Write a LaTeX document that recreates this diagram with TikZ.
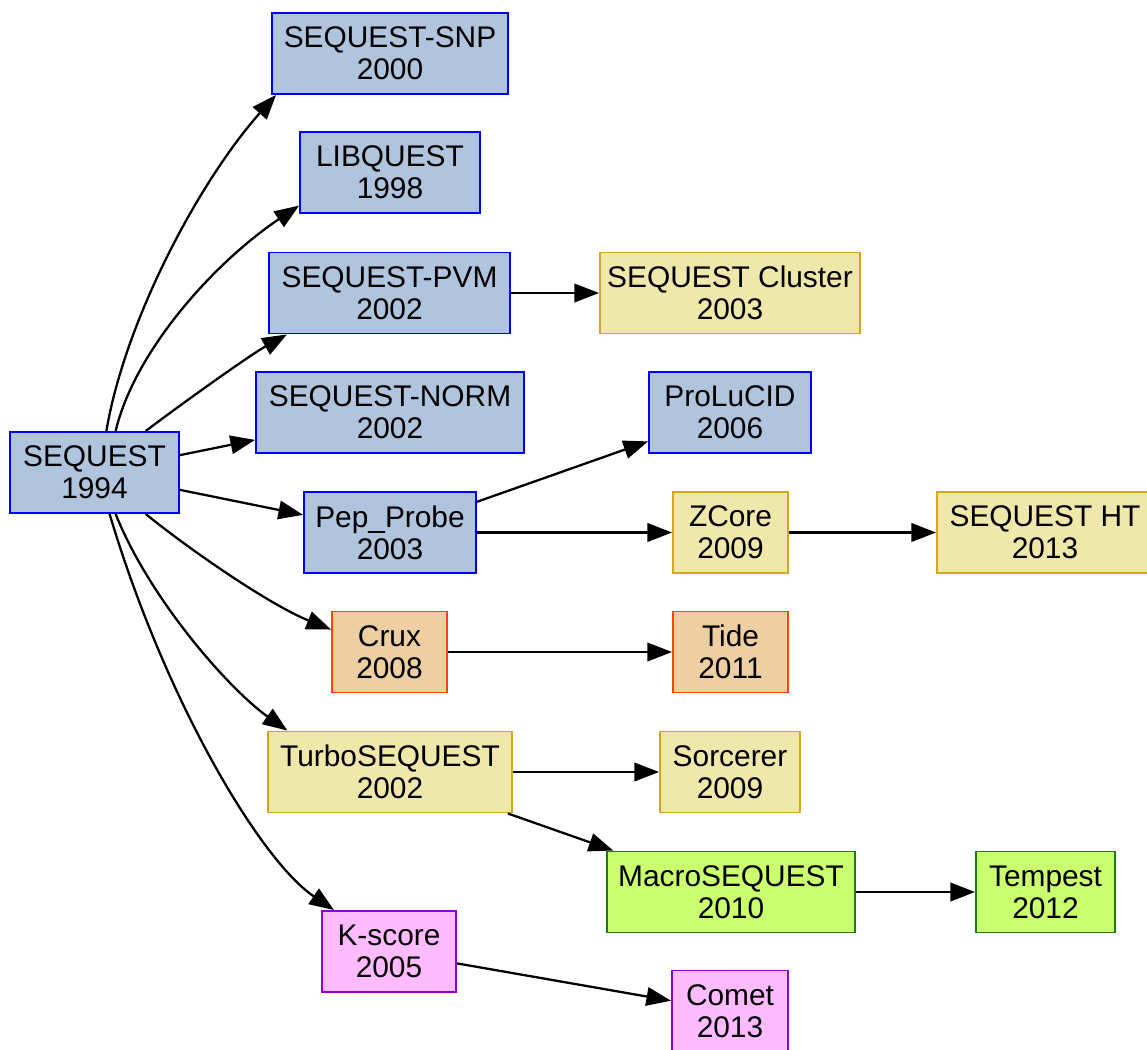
\documentclass[tikz,border=0pt]{standalone}
\usepackage{fontspec}
\setmainfont{Liberation Sans}
\usetikzlibrary{arrows.meta}

\definecolor{bluefill}{HTML}{B0C4DE}
\definecolor{yellowfill}{HTML}{EEE8AA}
\definecolor{yellowline}{HTML}{DAA520}
\definecolor{orangefill}{HTML}{EECFA1}
\definecolor{orangeline}{HTML}{FF4500}
\definecolor{greenfill}{HTML}{CAFF70}
\definecolor{greenline}{HTML}{1E7A1E}
\definecolor{pinkfill}{HTML}{FFBBFF}
\definecolor{pinkline}{HTML}{9400D3}

\tikzset{
    tool/.style={draw, line width=1.1pt, minimum height=1.62cm, inner xsep=2pt,
        align=center, font=\fontsize{17}{18.2}\selectfont},
    bluetool/.style={tool, fill=bluefill, draw=blue},
    yellowtool/.style={tool, fill=yellowfill, draw=yellowline},
    orangetool/.style={tool, fill=orangefill, draw=orangeline},
    greentool/.style={tool, fill=greenfill, draw=greenline},
    pinktool/.style={tool, fill=pinkfill, draw=pinkline},
    edge/.style={line width=1.3pt, -{Triangle[length=14pt, width=10.5pt]}}
}

\begin{document}
\begin{tikzpicture}[x=0.02cm, y=-0.02cm]
        \useasboundingbox (0, 0) rectangle (1147, 1049);

        % root
        \node[bluetool, minimum width=3.38cm] (seq) at (94.5, 472.5) {SEQUEST\\1994};

        % second column
        \node[bluetool, minimum width=4.72cm] (snp) at (390, 53.5) {SEQUEST-SNP\\2000};
        \node[bluetool, minimum width=3.6cm] (lib) at (390, 172.5) {LIBQUEST\\1998};
        \node[bluetool, minimum width=4.82cm] (pvm) at (389.5, 293) {SEQUEST-PVM\\2002};
        \node[bluetool, minimum width=5.36cm] (norm) at (390, 412.5) {SEQUEST-NORM\\2002};
        \node[bluetool, minimum width=3.44cm] (pep) at (390, 532.5) {Pep\_Probe\\2003};
        \node[orangetool, minimum width=2.3cm] (crux) at (389.5, 652) {Crux\\2008};
        \node[yellowtool, minimum width=4.88cm] (turbo) at (390, 772) {TurboSEQUEST\\2002};
        \node[pinktool, minimum width=2.68cm] (kscore) at (389, 951.5) {K-score\\2005};

        % third column
        \node[yellowtool, minimum width=5.2cm] (cluster) at (730, 293) {SEQUEST Cluster\\2003};
        \node[bluetool, minimum width=3.24cm] (prolucid) at (730, 412.5) {ProLuCID\\2006};
        \node[yellowtool, minimum width=2.3cm] (zcore) at (730.5, 532.5) {ZCore\\2009};
        \node[orangetool, minimum width=2.3cm] (tide) at (730.5, 652) {Tide\\2011};
        \node[yellowtool, minimum width=2.8cm] (sorcerer) at (730, 772) {Sorcerer\\2009};
        \node[greentool, minimum width=4.96cm] (macro) at (731, 892) {MacroSEQUEST\\2010};
        \node[pinktool, minimum width=2.32cm] (comet) at (730, 1011) {Comet\\2013};

        % fourth column
        \node[yellowtool, minimum width=4.32cm] (seqht) at (1045, 532.5) {SEQUEST HT\\2013};
        \node[greentool, minimum width=2.78cm] (tempest) at (1045.5, 892) {Tempest\\2012};

        % from SEQUEST
        \draw[edge] (seq.74) .. controls (125, 320) and (200, 180) .. (snp.200.5);
        \draw[edge] (seq.63) .. controls (135, 350) and (215, 262) .. (lib.200);
        \draw[edge] (seq.39) .. controls (180, 405) and (250, 355) .. (pvm.202);
        \draw[edge] (seq) -- (norm);
        \draw[edge] (seq) -- (pep);
        \draw[edge] (seq.-39) .. controls (190, 550) and (270, 605) .. (crux.159);
        \draw[edge] (seq.-63) .. controls (150, 600) and (230, 690) .. (turbo.158.6);
        \draw[edge] (seq.-70) .. controls (165, 700) and (260, 860) .. (kscore.143.5);

        % later tools
        \draw[edge] (pvm) -- (cluster);
        \draw[edge] (pep) -- (prolucid);
        \draw[edge] (pep) -- (zcore);
        \draw[edge] (zcore) -- (seqht);
        \draw[edge] (crux) -- (tide);
        \draw[edge] (turbo) -- (sorcerer);
        \draw[edge] (turbo) -- (macro);
        \draw[edge] (macro) -- (tempest);
        \draw[edge] (kscore) -- (comet);
    \end{tikzpicture}
\end{document}
